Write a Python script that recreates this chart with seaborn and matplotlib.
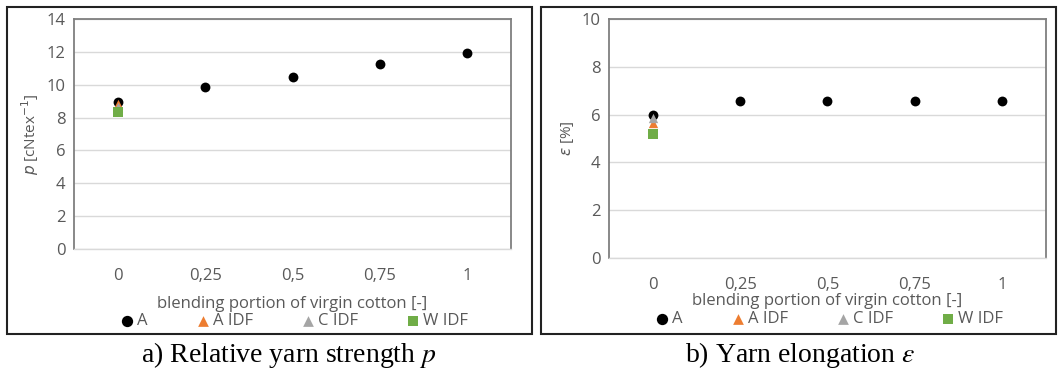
import numpy as np
import pandas as pd
import matplotlib
matplotlib.use("Agg")
import matplotlib.pyplot as plt
from matplotlib.patches import Rectangle
import seaborn as sns

# blending portion categories (x axis)
portions = ["0", "0,25", "0,5", "0,75", "1"]
series_names = ["A", "A IDF", "C IDF", "W IDF"]

# relative yarn strength p [cNtex-1]
strength_A = [8.95, 9.85, 10.5, 11.25, 11.95]
strength_A_idf = [8.8]
strength_C_idf = [8.65]
strength_W_idf = [8.35]

# yarn elongation [%]
elong_A = [6.0, 6.55, 6.55, 6.55, 6.55]
elong_A_idf = [5.65]
elong_C_idf = [5.85]
elong_W_idf = [5.2]

colors = {"A": "#000000", "A IDF": "#ed7d31", "C IDF": "#a5a5a5", "W IDF": "#70ad47"}
markers = {"A": "o", "A IDF": "^", "C IDF": "^", "W IDF": "s"}
sizes = {"A": 50, "A IDF": 45, "C IDF": 45, "W IDF": 45}
GREY = "#595959"


def build_frame(a, a_idf, c_idf, w_idf):
    rows = []
    for name, vals in zip(series_names, [a, a_idf, c_idf, w_idf]):
        for x, v in zip(portions, vals):
            rows.append({"series": name, "portion": x, "value": v})
    return pd.DataFrame(rows)


def draw_panel(ax, df, ymax, ylabel, xlabelpad, leg_y):
    for name in series_names:
        sub = df[df["series"] == name]
        sns.scatterplot(data=sub, x="portion", y="value", ax=ax, color=colors[name],
                        marker=markers[name], s=sizes[name], linewidth=0, label=name,
                        zorder=3, legend=True)
    ax.set_xlim(-0.5, len(portions) - 0.5)
    ax.set_ylim(0, ymax)
    ax.set_yticks(np.arange(0, ymax + 1, 2))
    ax.set_xticks(range(len(portions)))
    ax.set_xticklabels(portions)
    ax.set_xticks(np.arange(-0.5, len(portions), 1), minor=True)
    ax.tick_params(axis="x", which="major", length=0, pad=14, labelsize=12, labelcolor=GREY)
    ax.tick_params(axis="x", which="minor", length=6, color="#d9d9d9", width=1)
    ax.tick_params(axis="y", length=0, pad=6, labelsize=12, labelcolor=GREY)
    ax.grid(axis="y", color="#d9d9d9", lw=1)
    ax.grid(axis="x", visible=False)
    ax.set_axisbelow(True)
    for side in ["left", "top", "right"]:
        ax.spines[side].set_color("#7f7f7f")
        ax.spines[side].set_linewidth(1.3)
    ax.spines["bottom"].set_color("#d9d9d9")
    ax.spines["bottom"].set_linewidth(1)
    ax.set_xlabel("blending portion of virgin cotton [-]", fontsize=12, color=GREY,
                  labelpad=xlabelpad)
    ax.set_ylabel(ylabel, fontsize=11, color=GREY, math_fontfamily="dejavusans", labelpad=4)
    ax.set_facecolor("white")
    leg = ax.legend(loc="center", bbox_to_anchor=(0.5, leg_y), ncol=4, frameon=False,
                    fontsize=12, columnspacing=2.7, handletextpad=0.0, handlelength=1.2,
                    markerscale=1.15, borderaxespad=0)
    for t in leg.get_texts():
        t.set_color(GREY)


sns.set_theme(style="white")
plt.rcParams["font.family"] = ["Open Sans", "DejaVu Sans"]

fig = plt.figure(figsize=(10.6, 3.69), dpi=100)
ax1 = fig.add_axes([0.0698, 0.3252, 0.4123, 0.6233])
ax2 = fig.add_axes([0.5745, 0.3008, 0.4123, 0.6477])

df1 = build_frame(strength_A, strength_A_idf, strength_C_idf, strength_W_idf)
df2 = build_frame(elong_A, elong_A_idf, elong_C_idf, elong_W_idf)

draw_panel(ax1, df1, 14, r"$p$ [cNtex$^{-1}$]", 8, -0.315)
draw_panel(ax2, df2, 10, r"$\varepsilon$ [%]", 0, -0.255)

# outer panel frames
fig.add_artist(Rectangle((7 / 1060, 1 - 334 / 369), 525 / 1060, 327 / 369,
                         transform=fig.transFigure, fill=False, lw=1.5, ec="#222222"))
fig.add_artist(Rectangle((541 / 1060, 1 - 334 / 369), 515 / 1060, 327 / 369,
                         transform=fig.transFigure, fill=False, lw=1.5, ec="#222222"))

fig.text(0.2725, 0.019, "a) Relative yarn strength $p$", ha="center", va="baseline",
         fontsize=20, family="Liberation Serif", math_fontfamily="stix", color="black")
fig.text(0.7545, 0.019, r"b) Yarn elongation $\varepsilon$", ha="center", va="baseline",
         fontsize=20, family="Liberation Serif", math_fontfamily="stix", color="black")

fig.savefig("out.png", dpi=100, facecolor="white")
